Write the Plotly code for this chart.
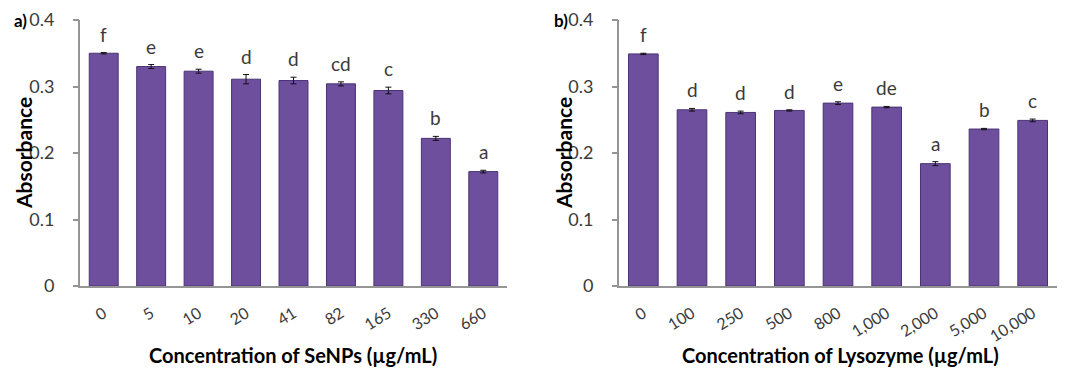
import plotly.graph_objects as go

# ---- data ----
seNP_conc = ["0", "5", "10", "20", "41", "82", "165", "330", "660"]
seNP_abs = [0.350, 0.330, 0.323, 0.311, 0.309, 0.304, 0.294, 0.222, 0.172]
seNP_err = [0.001, 0.003, 0.003, 0.007, 0.005, 0.003, 0.005, 0.003, 0.002]
seNP_letters = ["f", "e", "e", "d", "d", "cd", "c", "b", "a"]

lyso_conc = ["0", "100", "250", "500", "800", "1,000", "2,000", "5,000", "10,000"]
lyso_abs = [0.349, 0.265, 0.261, 0.264, 0.275, 0.269, 0.184, 0.236, 0.249]
lyso_err = [0.001, 0.002, 0.002, 0.001, 0.002, 0.001, 0.003, 0.001, 0.002]
lyso_letters = ["f", "d", "d", "d", "e", "de", "a", "b", "c"]

W, H = 1072, 378
FONT = "Lato, 'Open Sans', sans-serif"
BAR = "#6e4f9e"
BAR_LINE = "#4a3373"
AX = "#959595"
TXT = "#3a3a3a"
CLEAR = "rgba(0,0,0,0)"

fig = go.Figure()

panels = [
    (seNP_conc, seNP_abs, seNP_err, seNP_letters, "x", "y", "y3"),
    (lyso_conc, lyso_abs, lyso_err, lyso_letters, "x2", "y2", "y4"),
]
for conc, vals, errs, letters, xa, ya, ytick in panels:
    idx = list(range(len(conc)))
    fig.add_trace(go.Bar(
        x=idx, y=vals, xaxis=xa, yaxis=ya, width=0.61,
        marker=dict(color=BAR, line=dict(color=BAR_LINE, width=1)),
        error_y=dict(type="data", array=errs, visible=True,
                     color="#111111", thickness=1, width=3),
        showlegend=False, hoverinfo="skip",
    ))
    # empty trace so the tick-mark overlay axis gets drawn
    fig.add_trace(go.Scatter(x=[], y=[], xaxis=xa, yaxis=ytick,
                             showlegend=False, hoverinfo="skip"))
    for i, v, e, l in zip(idx, vals, errs, letters):
        fig.add_annotation(
            x=i, y=v + e, xref=xa, yref=ya, text=l, showarrow=False,
            yanchor="bottom", yshift=5,
            font=dict(family=FONT, size=19, color=TXT),
        )

ydom = [1 - 286 / H, 1 - 20 / H]
xdom1 = [80 / W, 507 / W]
xdom2 = [619 / W, 1057 / W]

def axis_x(labels):
    return dict(type="linear", range=[-0.5, len(labels) - 0.5],
                tickmode="array", tickvals=list(range(len(labels))), ticktext=labels,
                showline=True, linecolor=AX, linewidth=2,
                ticks="outside", ticklen=10, tickcolor=CLEAR,
                tickangle=-32, automargin=False,
                tickfont=dict(family=FONT, size=16, color=TXT),
                showgrid=False, zeroline=False)

axis_y = dict(range=[0, 0.4], dtick=0.1, showline=True, linecolor=AX,
              linewidth=2, ticks="outside", ticklen=20, tickcolor=CLEAR,
              automargin=False,
              tickfont=dict(family=FONT, size=18, color=TXT),
              showgrid=False, zeroline=False, tickformat="~g")

axis_ytick = dict(range=[0, 0.4], dtick=0.1, showline=False, ticks="outside",
                  ticklen=6, tickcolor=AX, tickwidth=2, showticklabels=False,
                  automargin=False, showgrid=False, zeroline=False)

fig.update_layout(
    width=W, height=H,
    margin=dict(l=0, r=0, t=0, b=0, autoexpand=False),
    paper_bgcolor="white", plot_bgcolor="white",
    xaxis=dict(domain=xdom1, anchor="y", **axis_x(seNP_conc)),
    yaxis=dict(domain=ydom, anchor="x", **axis_y),
    xaxis2=dict(domain=xdom2, anchor="y2", **axis_x(lyso_conc)),
    yaxis2=dict(domain=ydom, anchor="x2", **axis_y),
    yaxis3=dict(domain=ydom, anchor="x", overlaying="y", **axis_ytick),
    yaxis4=dict(domain=ydom, anchor="x2", overlaying="y2", **axis_ytick),
)

# titles and panel labels
def paper_text(x, y, text, size, angle=0, bold=True, color="black"):
    fig.add_annotation(
        x=x / W, y=1 - y / H, xref="paper", yref="paper",
        text=f"<b>{text}</b>" if bold else text, showarrow=False,
        textangle=angle, xanchor="center", yanchor="middle",
        font=dict(family=FONT, size=size, color=color),
    )

paper_text(20, 20, "a)", 17)
paper_text(561, 20, "b)", 17)
paper_text(23, 153, "Absorbance", 21, angle=-90)
paper_text(563, 153, "Absorbance", 21, angle=-90)
paper_text(293, 355, "Concentration of SeNPs (µg/mL)", 20)
paper_text(840, 355, "Concentration of Lysozyme (µg/mL)", 20)

fig.write_html("out.html")
